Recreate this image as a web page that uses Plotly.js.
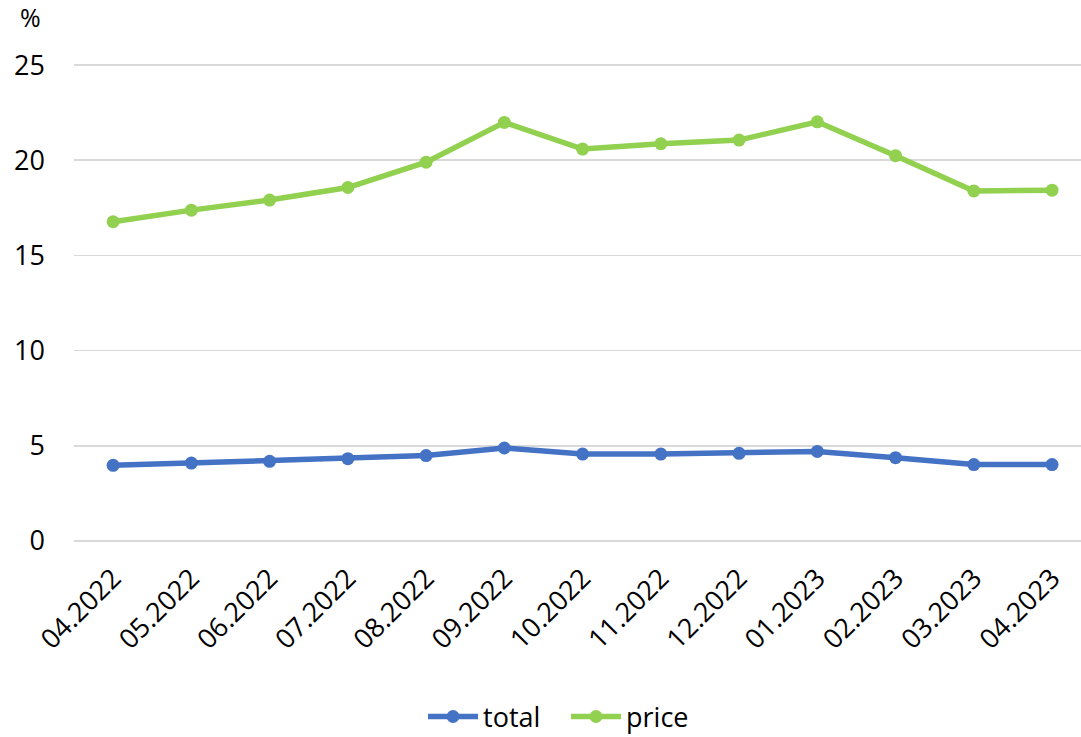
<!DOCTYPE html>
<html>
<head>
<meta charset="utf-8">
<script src="https://cdn.plot.ly/plotly-3.0.1.min.js"></script>
<style>
  html, body { margin: 0; padding: 0; background: #ffffff; }
  #chart { width: 1081px; height: 737px; }
</style>
</head>
<body>
<div id="chart"></div>
<script>
// Monthly periods on the category axis
const months = ["04.2022", "05.2022", "06.2022", "07.2022", "08.2022", "09.2022",
                "10.2022", "11.2022", "12.2022", "01.2023", "02.2023", "03.2023", "04.2023"];

// Series values, in percent
const totalValues = [3.97, 4.09, 4.18, 4.32, 4.48, 4.88, 4.56, 4.56, 4.60, 4.70, 4.37, 4.01, 4.01];
const priceValues = [16.77, 17.38, 17.91, 18.57, 19.90, 21.99, 20.59, 20.87, 21.06, 22.02, 20.24, 18.39, 18.43];

// Y axis ticks
const yTicks = [0, 5, 10, 15, 20, 25];

const FONT = "'Open Sans', 'Liberation Sans', sans-serif";

const traces = [
  {
    name: "total",
    x: months,
    y: totalValues,
    type: "scatter",
    mode: "lines+markers",
    line: { color: "#4472C4", width: 5.5 },
    marker: { color: "#4472C4", size: 13 }
  },
  {
    name: "price",
    x: months,
    y: priceValues,
    type: "scatter",
    mode: "lines+markers",
    line: { color: "#92D050", width: 5.5 },
    marker: { color: "#92D050", size: 13 }
  }
];

const layout = {
  width: 1081,
  height: 737,
  margin: { l: 74, r: 0, t: 64, b: 195, autoexpand: false },
  paper_bgcolor: "#ffffff",
  plot_bgcolor: "#ffffff",
  font: { family: FONT, size: 27, color: "#000000" },
  showlegend: true,
  legend: {
    orientation: "h",
    x: 0.3466,
    xanchor: "left",
    y: -0.366,
    yref: "paper",
    yanchor: "middle",
    font: { family: FONT, size: 27, color: "#000000" },
    itemwidth: 50,
    entrywidth: 78,
    entrywidthmode: "pixels",
    tracegroupgap: 0
  },
  xaxis: {
    type: "category",
    range: [-0.5, 12.37],
    tickangle: -45,
    showgrid: false,
    zeroline: false,
    showline: false,
    ticks: "",
    ticklabelstandoff: 14,
    automargin: false,
    tickfont: { family: FONT, size: 27, color: "#000000" }
  },
  yaxis: {
    // slight padding so the 0 and 25 grid lines are kept inside the plot area
    range: [-0.06, 25.06],
    tickvals: yTicks,
    ticktext: yTicks.map(String),
    showgrid: true,
    gridcolor: "#d9d9d9",
    gridwidth: 1.6,
    zeroline: false,
    showline: false,
    ticks: "",
    ticklabelstandoff: 28,
    automargin: false,
    tickfont: { family: FONT, size: 27, color: "#000000" }
  },
  annotations: [
    {
      text: "%",
      xref: "paper",
      yref: "paper",
      x: -0.043,
      y: 1.0,
      xanchor: "center",
      yanchor: "bottom",
      yshift: 28,
      showarrow: false,
      font: { family: FONT, size: 25, color: "#000000" }
    }
  ]
};

Plotly.newPlot("chart", traces, layout, { displayModeBar: false, staticPlot: true });
</script>
</body>
</html>
